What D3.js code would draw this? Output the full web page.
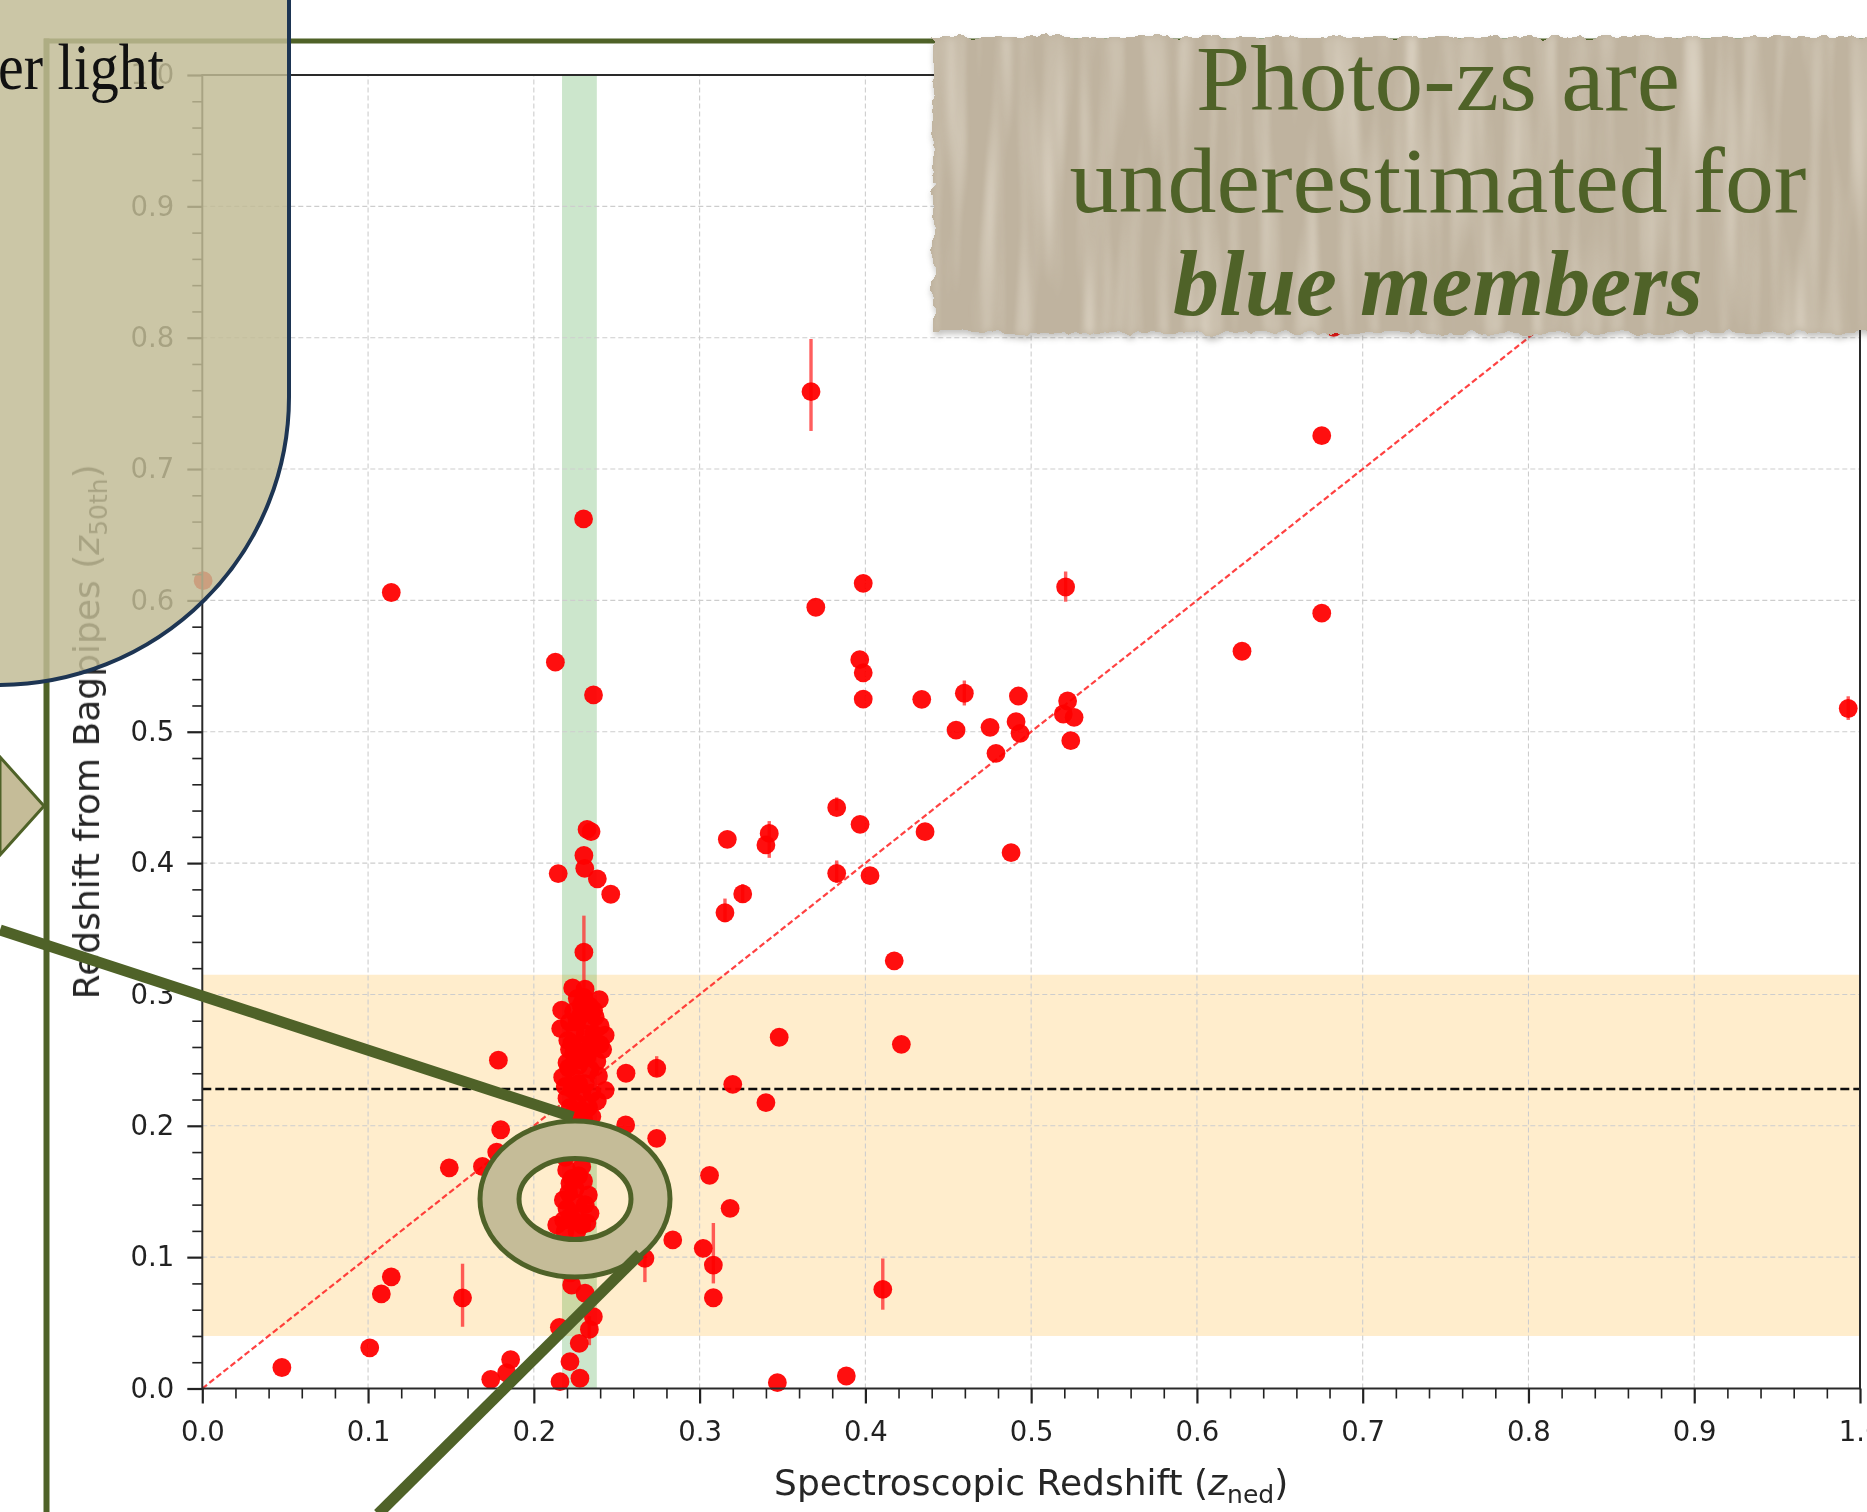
<!DOCTYPE html>
<html>
<head>
<meta charset="utf-8">
<script src="https://cdn.jsdelivr.net/npm/d3@7"></script>
<style>
  html, body { margin: 0; padding: 0; background: #ffffff; }
  svg { display: block; }
</style>
</head>
<body>
<svg id="slide" width="1867" height="1512"></svg>
<script>
// ---------- data: spectroscopic vs. Bagpipes photometric redshift ----------
// galaxies inside the cluster redshift window (green band)
const clusterCore = [
  [0.2234,0.305],[0.2309,0.304],[0.2395,0.296],[0.2168,0.288],[0.2337,0.291],[0.2262,0.297],
  [0.2282,0.284],[0.2215,0.279],[0.2330,0.280],[0.2370,0.283],[0.2162,0.274],[0.2250,0.272],
  [0.2310,0.270],[0.2400,0.276],[0.2430,0.269],[0.2205,0.265],[0.2280,0.262],[0.2350,0.264],
  [0.2415,0.258],[0.2240,0.255],[0.2320,0.252],[0.2380,0.249],[0.2200,0.248],[0.2270,0.246],
  [0.2340,0.243],[0.2390,0.238],[0.2174,0.237],[0.2250,0.236],[0.2310,0.232],[0.2230,0.228],
  [0.2290,0.225],[0.2430,0.227],[0.2383,0.219],[0.2200,0.221],[0.2260,0.217],[0.2330,0.214],
  [0.2240,0.209],[0.2300,0.206],[0.2270,0.201],[0.2350,0.207],[0.2210,0.244],[0.2285,0.292],
  [0.2240,0.287],[0.2360,0.270],[0.2215,0.258],[0.2300,0.298],[0.2260,0.279],[0.2330,0.259],
  [0.2290,0.250],[0.2230,0.263],[0.2270,0.232],[0.2350,0.225],[0.2290,0.212],[0.2220,0.214],
  [0.2360,0.288],[0.2400,0.262],[0.2190,0.230]
];
// blue members whose photo-z falls low
const clusterLow = [
  [0.2250,0.190],[0.2300,0.183],[0.2190,0.176],
  [0.2198,0.1664],[0.2289,0.1689],[0.2218,0.1562],[0.2329,0.1473],[0.2178,0.1435],[0.2268,0.141],
  [0.2339,0.1334],[0.2218,0.1308],[0.2138,0.1245],[0.2289,0.1245],[0.2188,0.1194],[0.2250,0.152],
  [0.2300,0.158],[0.2240,0.128],[0.2230,0.160],[0.2270,0.162],[0.2210,0.149],[0.2310,0.140],
  [0.2250,0.133],[0.2200,0.137],[0.2320,0.126],[0.2260,0.120],[0.2180,0.128],
  [0.2280,0.100],[0.2330,0.092],[0.2220,0.088],
  [0.2228,0.0788],[0.2309,0.0725],[0.2359,0.0547],[0.2154,0.0466],[0.2274,0.0344],
  [0.2218,0.0204],[0.2158,0.0052],[0.2278,0.0078],[0.2335,0.045]
];
// cluster-window galaxies with high photo-z
const clusterHigh = [
  [0.213,0.553],[0.2147,0.392],[0.230,0.662],[0.2321,0.4256],[0.2345,0.424],[0.2302,0.4058],
  [0.2307,0.396],[0.2383,0.388],[0.2464,0.3763],[0.236,0.528],[0.2302,0.3322]
];
// foreground / background galaxies
const fieldGalaxies = [
  [0.0005,0.615],[0.048,0.016],[0.101,0.031],[0.108,0.072],[0.114,0.085],[0.114,0.606],
  [0.149,0.168],[0.157,0.069],[0.169,0.169],[0.174,0.007],[0.1776,0.180],[0.1786,0.250],
  [0.180,0.197],[0.1836,0.012],[0.186,0.022],
  [0.2556,0.240],[0.2741,0.2438],[0.2554,0.2006],[0.2741,0.1905],[0.2838,0.1131],[0.267,0.099],
  [0.3022,0.1067],[0.3060,0.1623],[0.3083,0.094],[0.3083,0.0691],[0.3184,0.1372],[0.3200,0.2316],
  [0.3400,0.2176],[0.3480,0.2674],[0.3469,0.0044],[0.3885,0.0095],[0.4105,0.0754],[0.4217,0.262],
  [0.4174,0.3256],[0.3153,0.3622],[0.326,0.3765],[0.3167,0.4181],[0.340,0.4138],[0.342,0.4227],
  [0.3827,0.4422],[0.3827,0.3922],[0.3968,0.4295],[0.4028,0.3904],[0.436,0.4239],
  [0.3672,0.7589],[0.3701,0.5948],[0.3987,0.6129],[0.3966,0.5549],[0.3987,0.5449],[0.3987,0.5249],
  [0.434,0.5247],[0.4597,0.5293],[0.4923,0.5272],[0.4547,0.5013],[0.4752,0.5034],[0.4909,0.5077],
  [0.4933,0.4988],[0.4788,0.4836],[0.4879,0.4079],[0.5208,0.6102],[0.522,0.5234],[0.5194,0.5135],
  [0.5259,0.511],[0.5239,0.4932],[0.6272,0.5613],[0.6753,0.7254],[0.6753,0.5903],[0.6825,0.8078],
  [0.9929,0.5177]
];
// vertical error bars: [z_spec, lower z_phot, upper z_phot]
const errorBars = [
  [0.2302,0.305,0.360],[0.157,0.047,0.095],[0.3672,0.729,0.799],[0.4105,0.060,0.099],
  [0.3083,0.080,0.126],[0.267,0.081,0.115],[0.9929,0.509,0.527],[0.5208,0.599,0.622],
  [0.342,0.404,0.432],[0.3827,0.385,0.402],[0.3827,0.440,0.450],[0.326,0.370,0.384],
  [0.3153,0.355,0.373],[0.4597,0.520,0.539],[0.2741,0.238,0.253],[0.2335,0.033,0.055]
];
// cluster redshift window and photo-z selection window
const clusterZ = [0.217, 0.238];
const photoWindow = [0.040, 0.315];
const clusterPhotoZ = 0.228;
// axis ticks
const majorTicks = [0, 0.1, 0.2, 0.3, 0.4, 0.5, 0.6, 0.7, 0.8, 0.9, 1.0];
const tickLabels = ["0.0","0.1","0.2","0.3","0.4","0.5","0.6","0.7","0.8","0.9","1.0"];
const minorTicks = [0.02,0.04,0.06,0.08,0.12,0.14,0.16,0.18,0.22,0.24,0.26,0.28,0.32,0.34,0.36,0.38,
  0.42,0.44,0.46,0.48,0.52,0.54,0.56,0.58,0.62,0.64,0.66,0.68,0.72,0.74,0.76,0.78,
  0.82,0.84,0.86,0.88,0.92,0.94,0.96,0.98];
const calloutLines = ["Photo-zs are", "underestimated for", "blue members"];

// ---------- setup ----------
const svg = d3.select("#slide");
const defs = svg.append("defs");
const OLIVE = "#4f6228";
const SANS = "'DejaVu Sans', sans-serif";
const SERIF = "'Liberation Serif', 'DejaVu Serif', serif";

const soft = defs.append("filter").attr("id", "soft");
soft.append("feGaussianBlur").attr("stdDeviation", 0.7);

// torn paper strip: ragged edges plus soft vertical fibres
const torn = defs.append("filter").attr("id", "torn")
  .attr("color-interpolation-filters", "sRGB")
  .attr("x", "-4%").attr("y", "-12%").attr("width", "108%").attr("height", "130%");
torn.append("feTurbulence").attr("type", "fractalNoise").attr("baseFrequency", "0.06 0.05")
  .attr("numOctaves", 3).attr("seed", 5).attr("result", "edgeNoise");
torn.append("feDisplacementMap").attr("in", "SourceGraphic").attr("in2", "edgeNoise")
  .attr("scale", 12).attr("xChannelSelector", "R").attr("yChannelSelector", "G").attr("result", "paper");
torn.append("feTurbulence").attr("type", "fractalNoise").attr("baseFrequency", "0.05 0.004")
  .attr("numOctaves", 2).attr("seed", 11).attr("result", "fiber");
torn.append("feColorMatrix").attr("in", "fiber").attr("type", "matrix")
  .attr("values", "0 0 0 0 1  0 0 0 0 0.98  0 0 0 0 0.94  0.9 0 0 0 -0.38").attr("result", "fiberLight");
torn.append("feComposite").attr("in", "fiberLight").attr("in2", "paper").attr("operator", "in").attr("result", "fiberOnPaper");
torn.append("feGaussianBlur").attr("in", "fiberOnPaper").attr("stdDeviation", "1.5 4").attr("result", "fiberSoft");
torn.append("feComposite").attr("in", "fiberSoft").attr("in2", "paper").attr("operator", "in").attr("result", "fiberClip");
torn.append("feColorMatrix").attr("in", "paper").attr("type", "matrix")
  .attr("values", "0 0 0 0 0.2  0 0 0 0 0.18  0 0 0 0 0.15  0 0 0 0.3 0").attr("result", "shadowA");
torn.append("feGaussianBlur").attr("in", "shadowA").attr("stdDeviation", 3).attr("result", "shadowB");
torn.append("feOffset").attr("in", "shadowB").attr("dx", 1).attr("dy", 4).attr("result", "shadow");
const tm = torn.append("feMerge");
tm.append("feMergeNode").attr("in", "shadow");
tm.append("feMergeNode").attr("in", "paper");
tm.append("feMergeNode").attr("in", "fiberClip");

svg.append("rect").attr("width", 1867).attr("height", 1512).attr("fill", "#ffffff");

const x = d3.scaleLinear().domain([0, 1]).range([202.3, 1860]);
const y = d3.scaleLinear().domain([0, 1]).range([1388.5, 75]);

// ---------- scatter chart ----------
const chart = svg.append("g").attr("filter", "url(#soft)");

chart.append("rect")
  .attr("x", x(0)).attr("width", x(1) - x(0))
  .attr("y", y(photoWindow[1])).attr("height", y(photoWindow[0]) - y(photoWindow[1]))
  .attr("fill", "orange").attr("fill-opacity", 0.2);
chart.append("rect")
  .attr("x", x(clusterZ[0])).attr("width", x(clusterZ[1]) - x(clusterZ[0]))
  .attr("y", y(1)).attr("height", y(0) - y(1))
  .attr("fill", "green").attr("fill-opacity", 0.2);

const grid = chart.append("g").attr("stroke", "#cdcdcd").attr("stroke-width", 1.1)
  .attr("stroke-dasharray", "5 3");
grid.selectAll("line.gx").data(majorTicks.slice(1, -1)).join("line")
  .attr("x1", d => x(d)).attr("x2", d => x(d)).attr("y1", y(0)).attr("y2", y(1));
grid.selectAll("line.gy").data(majorTicks.slice(1, -1)).join("line")
  .attr("y1", d => y(d)).attr("y2", d => y(d)).attr("x1", x(0)).attr("x2", x(1));

// one-to-one relation
chart.append("line")
  .attr("x1", x(0)).attr("y1", y(0)).attr("x2", x(1)).attr("y2", y(1))
  .attr("stroke", "#ff2020").attr("stroke-opacity", 0.85).attr("stroke-width", 2.2)
  .attr("stroke-dasharray", "6 3");
// cluster photo-z
chart.append("line")
  .attr("x1", x(0)).attr("x2", x(1)).attr("y1", y(clusterPhotoZ)).attr("y2", y(clusterPhotoZ))
  .attr("stroke", "#111").attr("stroke-width", 2.5).attr("stroke-dasharray", "9 4");

chart.append("g").selectAll("line").data(errorBars).join("line")
  .attr("x1", d => x(d[0])).attr("x2", d => x(d[0]))
  .attr("y1", d => y(d[1])).attr("y2", d => y(d[2]))
  .attr("stroke", "#ff2a2a").attr("stroke-opacity", 0.75).attr("stroke-width", 3.4);

const allPoints = fieldGalaxies.concat(clusterHigh, clusterCore, clusterLow);
chart.append("g").selectAll("circle").data(allPoints).join("circle")
  .attr("cx", d => x(d[0])).attr("cy", d => y(d[1])).attr("r", 9.4)
  .attr("fill", "#ff0000").attr("fill-opacity", 0.94);

// spines
chart.append("rect")
  .attr("x", x(0)).attr("y", y(1)).attr("width", x(1) - x(0)).attr("height", y(0) - y(1))
  .attr("fill", "none").attr("stroke", "#2b2b2b").attr("stroke-width", 2);

function styleAxis(g, width) {
  g.select(".domain").remove();
  g.selectAll(".tick line").attr("stroke", "#222").attr("stroke-width", width);
  g.selectAll(".tick text").attr("fill", "#222").style("font-family", SANS).style("font-size", "27.5px");
}
chart.append("g").attr("transform", `translate(0,${y(0)})`)
  .call(d3.axisBottom(x).tickValues(majorTicks).tickFormat((d, i) => tickLabels[i]).tickSize(15).tickPadding(18))
  .call(g => styleAxis(g, 2.2));
chart.append("g").attr("transform", `translate(0,${y(0)})`)
  .call(d3.axisBottom(x).tickValues(minorTicks).tickFormat("").tickSize(10))
  .call(g => styleAxis(g, 1.6));
chart.append("g").attr("transform", `translate(${x(0)},0)`)
  .call(d3.axisLeft(y).tickValues(majorTicks).tickFormat((d, i) => tickLabels[i]).tickSize(15).tickPadding(13))
  .call(g => styleAxis(g, 2.2));
chart.append("g").attr("transform", `translate(${x(0)},0)`)
  .call(d3.axisLeft(y).tickValues(minorTicks).tickFormat("").tickSize(10))
  .call(g => styleAxis(g, 1.6));

const xl = chart.append("text")
  .attr("x", (x(0) + x(1)) / 2).attr("y", 1495).attr("text-anchor", "middle")
  .attr("fill", "#262626").style("font-family", SANS).style("font-size", "36px");
xl.append("tspan").text("Spectroscopic Redshift (");
xl.append("tspan").attr("font-style", "italic").text("z");
xl.append("tspan").attr("dy", 8).style("font-size", "25px").text("ned");
xl.append("tspan").attr("dy", -8).text(")");

const yl = chart.append("text")
  .attr("transform", `translate(99,${(y(0) + y(1)) / 2}) rotate(-90)`).attr("text-anchor", "middle")
  .attr("fill", "#262626").style("font-family", SANS).style("font-size", "36px");
yl.append("tspan").text("Redshift from Bagpipes (");
yl.append("tspan").attr("font-style", "italic").text("z");
yl.append("tspan").attr("dy", 8).style("font-size", "25px").text("50th");
yl.append("tspan").attr("dy", -8).text(")");

// ---------- slide decoration ----------
svg.append("line").attr("x1", 46.5).attr("x2", 46.5).attr("y1", 38.5).attr("y2", 1512)
  .attr("stroke", OLIVE).attr("stroke-width", 6);
svg.append("line").attr("x1", 44).attr("x2", 1867).attr("y1", 41).attr("y2", 41)
  .attr("stroke", OLIVE).attr("stroke-width", 5);

// note card in the upper left
svg.append("path")
  .attr("d", "M -10 -10 H 289 V 397 A 291 288 0 0 1 0 685 H -10 Z")
  .attr("fill", "#c1bb95").attr("fill-opacity", 0.84)
  .attr("stroke", "#1d3553").attr("stroke-width", 4);
svg.append("text").attr("x", -2).attr("y", 89).attr("textLength", 166).attr("lengthAdjust", "spacingAndGlyphs")
  .attr("fill", "#111").style("font-family", SERIF).style("font-size", "66px")
  .text("er light");

// pointer chevron
svg.append("path").attr("d", "M 0 757 L 44 806 L 0 855 Z")
  .attr("fill", "#c5bc98").attr("stroke", OLIVE).attr("stroke-width", 3).attr("stroke-linejoin", "miter");

// ring around the low photo-z members
const ringC = [575, 1199];
svg.append("path")
  .attr("d", `M ${ringC[0] - 95} ${ringC[1]} a 95 78 0 1 0 190 0 a 95 78 0 1 0 -190 0 Z
              M ${ringC[0] - 56} ${ringC[1]} a 56 40.5 0 1 0 112 0 a 56 40.5 0 1 0 -112 0 Z`)
  .attr("fill", "#c5bc98").attr("fill-rule", "evenodd")
  .attr("stroke", OLIVE).attr("stroke-width", 5);
svg.append("line").attr("x1", 0).attr("y1", 930).attr("x2", 573).attr("y2", 1117)
  .attr("stroke", OLIVE).attr("stroke-width", 11);
svg.append("line").attr("x1", 640).attr("y1", 1254).attr("x2", 378).attr("y2", 1514)
  .attr("stroke", OLIVE).attr("stroke-width", 11);

// torn paper callout
svg.append("rect").attr("x", 933).attr("y", 37).attr("width", 960).attr("height", 296)
  .attr("fill", "#bfb39f").attr("filter", "url(#torn)");
const callout = svg.append("g").attr("fill", OLIVE).style("font-family", SERIF)
  .style("font-size", "93px").attr("text-anchor", "middle");
const calloutWidths = [484, 737, 530];
const calloutBase = [110, 212, 315];
calloutLines.forEach((t, i) => {
  const tx = callout.append("text").attr("x", 1438).attr("y", calloutBase[i])
    .attr("textLength", calloutWidths[i]).attr("lengthAdjust", "spacingAndGlyphs").text(t);
  if (i === 2) tx.attr("font-weight", "bold").attr("font-style", "italic");
});
</script>
</body>
</html>
